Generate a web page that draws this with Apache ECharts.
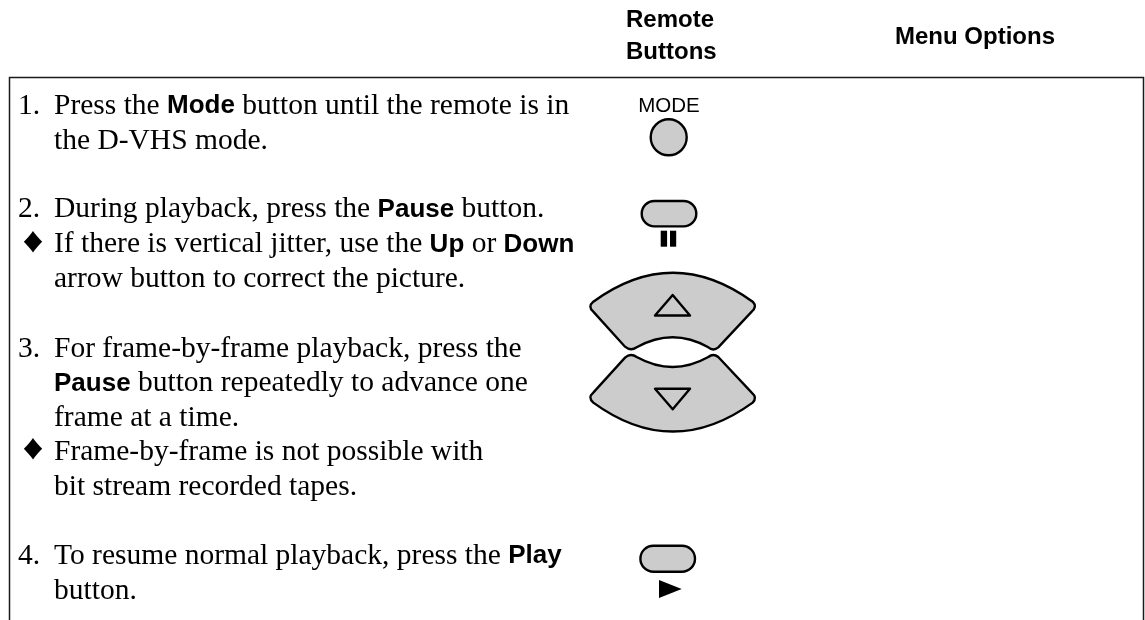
<!DOCTYPE html>
<html>
<head>
<meta charset="utf-8">
<style>html,body{margin:0;padding:0;background:#fff}#c{width:1145px;height:620px}</style>
<script src="https://cdn.jsdelivr.net/npm/echarts@6/dist/echarts.min.js"></script>
</head>
<body>
<div id="c"></div>
<script>
var headerRemote = ["Remote", "Buttons"];
var headerMenu = "Menu Options";
var modeLabel = "MODE";
// *...* marks the bold sans-serif words
var instructionLines = [
  {mark: "1.", text: "Press the *Mode* button until the remote is in"},
  {mark: "", text: "the D-VHS mode."},
  {mark: "2.", text: "During playback, press the *Pause* button."},
  {mark: "\u2666", text: "If there is vertical jitter, use the *Up* or *Down*"},
  {mark: "", text: "arrow button to correct the picture."},
  {mark: "3.", text: "For frame-by-frame playback, press the"},
  {mark: "", text: "*Pause* button repeatedly to advance one"},
  {mark: "", text: "frame at a time."},
  {mark: "\u2666", text: "Frame-by-frame is not possible with"},
  {mark: "", text: "bit stream recorded tapes."},
  {mark: "4.", text: "To resume normal playback, press the *Play*"},
  {mark: "", text: "button."}
];
var baselines = [113, 148.3, 216.7, 251.7, 286.7, 356, 390.7, 425, 459.3, 494, 563.3, 598.3];

var SERIF = '"Liberation Serif","Times New Roman",serif';
var SANS = '"Liberation Sans",Arial,sans-serif';
var FILL = '#cccccc';
var INK = '#000000';

function toRich(s) {
  return s.split('*').map(function (part, i) {
    if (!part) return '';
    return '{' + (i % 2 ? 'b' : 'r') + '|' + part + '}';
  }).join('');
}
var rich = {
  r: {fontFamily: SERIF, fontSize: 29.5, fill: INK},
  b: {fontFamily: SANS, fontSize: 26, fontWeight: 'bold', fill: INK}
};

var wedgeUp = 'M593.3,301.7 Q672.7,243.7 752.7,301.7 Q757.5,306.7 751.7,311.7 L718.3,347.3 Q713.3,351.5 708.3,347.3 Q672.7,327.3 636.7,347.3 Q630.7,351.5 625,346.7 L593.3,311.7 Q587.5,306.7 593.3,301.7 Z';
var wedgeDown = 'M593.3,402.6 Q672.7,460.6 752.7,402.6 Q757.5,397.6 751.7,392.6 L718.3,357 Q713.3,352.8 708.3,357 Q672.7,377 636.7,357 Q630.7,352.8 625,357.6 L593.3,392.6 Q587.5,397.6 593.3,402.6 Z';
echarts.graphic.registerShape('wedgeUp', echarts.graphic.extendPath(wedgeUp, {}));
echarts.graphic.registerShape('wedgeDown', echarts.graphic.extendPath(wedgeDown, {}));

var elements = [];
function sansText(x, y, t, size, weight, align) {
  elements.push({type: 'text', x: x, y: y, style: {text: t, fontFamily: SANS, fontSize: size, fontWeight: weight, fill: INK, align: align, verticalAlign: 'middle'}});
}
sansText(626, 20.5, headerRemote[0], 24, 'bold', 'left');
sansText(626, 52.5, headerRemote[1], 24, 'bold', 'left');
sansText(975, 37.5, headerMenu, 24, 'bold', 'center');
sansText(669, 106, modeLabel, 20.5, 'normal', 'center');

// frame
elements.push({type: 'polyline', shape: {points: [[9.5, 620], [9.5, 77.5], [1143.5, 77.5], [1143.5, 620]]}, style: {fill: 'none', stroke: '#1a1a1a', lineWidth: 1.5}});

instructionLines.forEach(function (l, i) {
  var c = baselines[i] - 7;
  if (l.mark) {
    if (l.mark === '\u2666') {
      elements.push({type: 'text', x: 22.5, y: baselines[i] - 9, scaleX: 1.18, style: {text: l.mark, fontFamily: SERIF, fontSize: 35, fill: INK, verticalAlign: 'middle'}});
    } else {
      elements.push({type: 'text', x: 18, y: c, style: {text: l.mark, fontFamily: SERIF, fontSize: 29.5, fill: INK, verticalAlign: 'middle'}});
    }
  }
  elements.push({type: 'text', x: 54, y: c, style: {text: toRich(l.text), rich: rich, verticalAlign: 'middle', font: '29.5px ' + SERIF}});
});

var btn = {fill: FILL, stroke: INK, lineWidth: 2.4};
elements.push({type: 'circle', shape: {cx: 668.7, cy: 137.3, r: 18}, style: btn});
elements.push({type: 'rect', shape: {x: 641.7, y: 201, width: 54.6, height: 25.4, r: 12.7}, style: btn});
elements.push({type: 'rect', shape: {x: 660.7, y: 230.7, width: 6.4, height: 16}, style: {fill: INK}});
elements.push({type: 'rect', shape: {x: 670, y: 230.7, width: 6.2, height: 16}, style: {fill: INK}});
elements.push({type: 'rect', shape: {x: 640.4, y: 545.7, width: 54.6, height: 26, r: 13}, style: btn});
elements.push({type: 'polygon', shape: {points: [[659, 580], [681.7, 589], [659, 598]]}, style: {fill: INK}});

elements.push({type: 'wedgeUp', style: btn});
elements.push({type: 'wedgeDown', style: btn});
var tri = {fill: 'none', stroke: INK, lineWidth: 2.4, lineJoin: 'round'};
elements.push({type: 'polygon', shape: {points: [[672.7, 295], [655, 315.5], [690, 315.5]]}, style: tri});
elements.push({type: 'polygon', shape: {points: [[672.7, 409.3], [655, 388.8], [690, 388.8]]}, style: tri});

var chart = echarts.init(document.getElementById('c'), null, {renderer: 'canvas'});
chart.setOption({animation: false, backgroundColor: '#fff', graphic: {elements: elements}});
</script>
</body>
</html>
